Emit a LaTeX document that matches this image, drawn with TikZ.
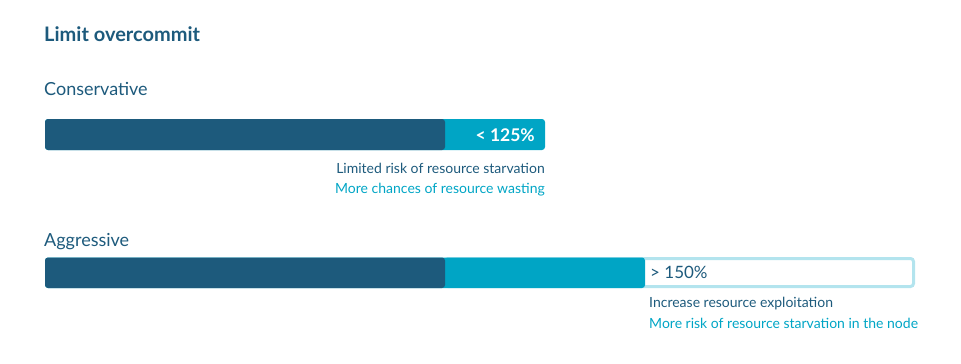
\documentclass[tikz,border=0pt]{standalone}
\usepackage{fontspec}
\setmainfont{Lato}
\definecolor{barDark}{HTML}{1D5A7C}
\definecolor{barCyan}{HTML}{00A5C5}
\definecolor{barPale}{HTML}{B3E4EE}
\begin{document}
\begin{tikzpicture}
         [x=1pt,y=-1pt,
          every node/.style={inner sep=0pt,text=barDark},
          heading/.style={anchor=base west,font=\fontsize{20}{23}\selectfont\bfseries},
          level/.style={anchor=base west,font=\fontsize{18}{21}\selectfont},
          note/.style={font=\fontsize{14}{16}\selectfont},
          pct/.style={font=\fontsize{17}{20}\selectfont},
          darkbar/.style={fill=barDark,rounded corners=3pt},
          cyanbar/.style={fill=barCyan,rounded corners=3pt},
          palebar/.style={draw=barPale,line width=3pt,fill=white,rounded corners=3pt}]
         \useasboundingbox (0,0) rectangle (961,364);

         \node[heading] (nTitle) at (44,41.5) {Limit overcommit};

         % conservative
         \node[level] (nCons) at (44,95) {Conservative};
         \fill[cyanbar] (45,119) rectangle (545,150);
         \fill[darkbar] (45,119) rectangle (445,150);
         \node[pct,anchor=base east,text=white,font=\fontsize{17.5}{21}\selectfont\bfseries] (nConsPct) at (535,141) {< 125\%};
         \node[note,anchor=base east] (nConsA) at (545,173) {Limited risk of resource starvation};
         \node[note,anchor=base east,text=barCyan] (nConsB) at (545,193) {More chances of resource wasting};

         % aggressive
         \node[level] (nAggr) at (44,246) {Aggressive};
         \draw[palebar] (445,258.5) rectangle (913.5,286.5);
         \fill[cyanbar] (45,257.5) rectangle (645,288);
         \fill[darkbar] (45,257.5) rectangle (445,288);
         \node[pct,anchor=base west] (nAggrPct) at (650,278) {> 150\%};
         \node[note,anchor=base west] (nAggrA) at (649,307) {Increase resource exploitation};
         \node[note,anchor=base west,text=barCyan] (nAggrB) at (649,328) {More risk of resource starvation in the node};

     \end{tikzpicture}
\end{document}
